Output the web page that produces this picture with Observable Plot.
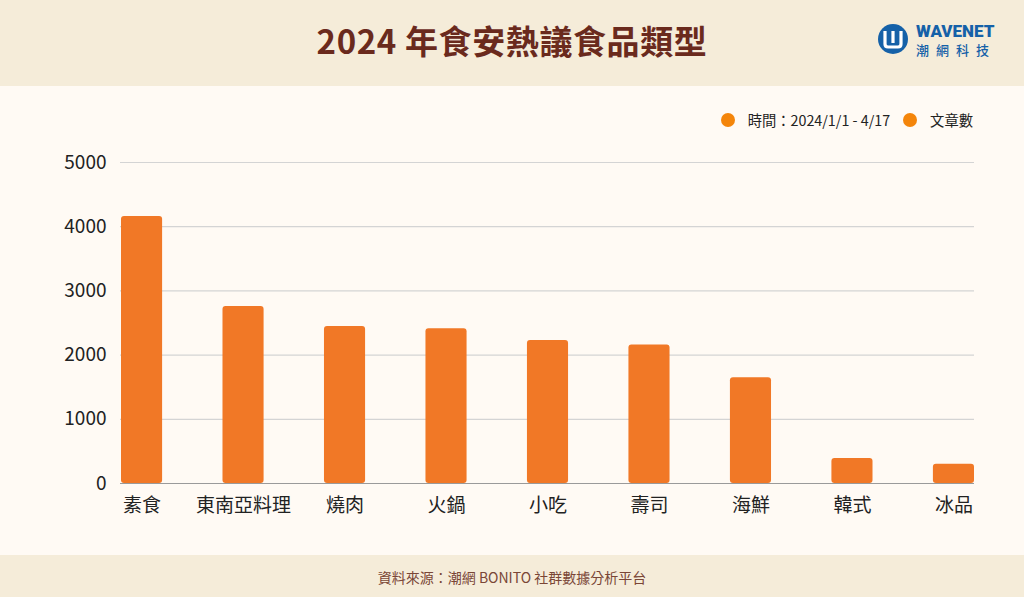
<!DOCTYPE html>
<html>
<head>
<meta charset="utf-8">
<script src="https://cdn.jsdelivr.net/npm/d3@7"></script>
<script src="https://cdn.jsdelivr.net/npm/@observablehq/plot@0.6"></script>
<style>
  html, body { margin: 0; padding: 0; }
  body { width: 1024px; height: 597px; position: relative; overflow: hidden; background: #fffaf4;
         font-family: "Noto Sans CJK TC", "Noto Sans", sans-serif; }
  #header { position: absolute; left: 0; top: 0; width: 1024px; height: 86px; background: #f5ecd9; }
  #title { position: absolute; left: 0; width: 1024px; top: 16px; text-align: center; font-size: 33px;
           font-weight: 700; color: #6a2a1d; letter-spacing: 0.6px; }
  #logo { position: absolute; left: 876px; top: 22px; }
  #footer { position: absolute; left: 0; top: 555px; width: 1024px; height: 42px; background: #f5ecd9;
            text-align: center; font-size: 14px; color: #7a4636; line-height: 44px; }
  #legend { position: absolute; top: 109px; right: 51px; font-size: 14.3px; color: #222; display: flex; align-items: center; }
  .dot { display: inline-block; width: 14px; height: 14px; border-radius: 50%; background: #f4850a; margin-right: 13px; }
  .item { display: flex; align-items: center; }
  #chart { position: absolute; left: 0; top: 140px; }
</style>
</head>
<body>
<div id="header">
  <div id="title">2024 年食安熱議食品類型</div>
  <svg id="logo" width="130" height="40" viewBox="0 0 130 40">
    <circle cx="17" cy="17" r="15" fill="#1561a8"/>
    <path d="M9 9 V22 Q9 25 12 25 H22 Q25 25 25 22 V9" fill="none" stroke="#fff" stroke-width="3.2"/>
    <line x1="17" y1="9" x2="17" y2="21" stroke="#fff" stroke-width="3.2"/>
    <text x="40" y="15" font-family="Roboto, sans-serif" font-weight="900" font-size="17" fill="#1561a8">WAVENET</text>
    <text x="40" y="33" font-family="Noto Sans CJK TC" font-weight="500" font-size="13" fill="#1561a8" letter-spacing="7">潮網科技</text>
  </svg>
</div>
<div id="legend">
  <span class="item"><span class="dot"></span><span>時間：2024/1/1 - 4/17</span></span>
  <span class="item" style="margin-left:13px"><span class="dot"></span><span>文章數</span></span>
</div>
<div id="chart"></div>
<div id="footer">資料來源：潮網 BONITO 社群數據分析平台</div>
<script>
const categories = ["素食", "東南亞料理", "燒肉", "火鍋", "小吃", "壽司", "海鮮", "韓式", "冰品"];
const values = [4157, 2757, 2446, 2411, 2229, 2156, 1649, 389, 300];
const yTicks = [0, 1000, 2000, 3000, 4000, 5000];

const data = categories.map((c, i) => ({category: c, value: values[i]}));

const chart = Plot.plot({
  width: 1024,
  height: 415,
  marginLeft: 121,
  marginRight: 50,
  marginTop: 22,
  marginBottom: 72,
  style: {background: "transparent", fontFamily: "'Noto Sans CJK TC', sans-serif", color: "#222"},
  x: {domain: categories, paddingInner: 0.595, paddingOuter: 0, round: false, label: null},
  y: {domain: [0, 5000], label: null},
  marks: [
    Plot.gridY(yTicks.filter(d => d > 0), {stroke: "#d4d4d4", strokeOpacity: 1, strokeWidth: 1.2, insetLeft: -1}),
    Plot.barY(data, {x: "category", y: "value", fill: "#f17826", rx: 3}),
    Plot.ruleY([0], {stroke: "#9a9a9a", strokeWidth: 1.2, insetLeft: -1}),
    Plot.axisY(yTicks, {tickSize: 0, tickPadding: 15, fontSize: 19, fill: "#222", label: null, tickFormat: d => String(d)}),
    Plot.axisX({tickSize: 0, tickPadding: 15, fontSize: 19, fill: "#222", label: null})
  ]
});
document.getElementById("chart").appendChild(chart);
</script>
</body>
</html>
